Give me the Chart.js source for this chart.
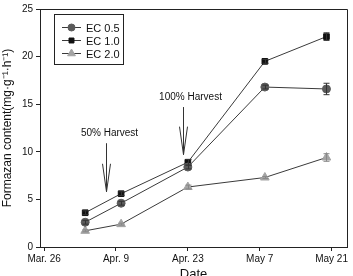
<!DOCTYPE html>
<html>
<head>
<meta charset="utf-8">
<script src="https://cdn.jsdelivr.net/npm/chart.js@4/dist/chart.umd.min.js"></script>
<style>
  html, body { margin: 0; padding: 0; background: #fff; overflow: hidden; }
  #wrap { width: 353px; height: 276px; }
</style>
</head>
<body>
<div id="wrap"><canvas id="formazan"></canvas></div>
<script>
// days counted from Mar. 26
const tickDays = [0, 14, 28, 42, 56];
const tickLabels = ['Mar. 26', 'Apr. 9', 'Apr. 23', 'May 7', 'May 21'];
const sampleDays = [8, 15, 28, 43, 55];

const ec05 = [2.6, 4.6, 8.4, 16.8, 16.6];
const ec10 = [3.6, 5.6, 8.9, 19.5, 22.1];
const ec20 = [1.7, 2.4, 6.3, 7.3, 9.4];
const ec05Err = [0.2, 0.2, 0.2, 0.2, 0.6];
const ec10Err = [0.2, 0.2, 0.3, 0.2, 0.4];
const ec20Err = [0.1, 0.1, 0.2, 0.1, 0.4];

// harvest arrows: x position (day), arrow top and tip (y value)
const harvestDays = [12.1, 27.0];
const harvestLabels = ['50% Harvest', '100% Harvest'];
const harvestTop = [10.9, 14.7];
const harvestTip = [5.8, 9.7];

const FONT = '"Liberation Sans", Arial, sans-serif';
const lineColor = '#3a3a3a';

function toPoints(ys) {
    return ys.map((y, i) => ({ x: sampleDays[i], y }));
}

const series = [
    { label: 'EC 0.5', data: ec05, err: ec05Err, style: 'circle', color: '#5a5a5a', radius: 4 },
    { label: 'EC 1.0', data: ec10, err: ec10Err, style: 'rect', color: '#111111', radius: 4 },
    { label: 'EC 2.0', data: ec20, err: ec20Err, style: 'triangle', color: '#a4a4a4', radius: 5 }
];

const extras = {
    id: 'extras',
    afterDatasetsDraw(chart) {
        const { ctx, chartArea: a, scales: { x, y } } = chart;
        ctx.save();

        // error bars
        ctx.lineWidth = 1;
        series.forEach(s => {
            ctx.strokeStyle = s.color === '#a4a4a4' ? '#888' : '#333';
            s.data.forEach((v, i) => {
                const px = Math.round(x.getPixelForValue(sampleDays[i])) + 0.5;
                const hi = y.getPixelForValue(v + s.err[i]);
                const lo = y.getPixelForValue(v - s.err[i]);
                ctx.beginPath();
                ctx.moveTo(px, hi); ctx.lineTo(px, lo);
                ctx.moveTo(px - 3, hi); ctx.lineTo(px + 3, hi);
                ctx.moveTo(px - 3, lo); ctx.lineTo(px + 3, lo);
                ctx.stroke();
            });
        });

        // frame top/right
        ctx.strokeStyle = '#222';
        ctx.beginPath();
        ctx.moveTo(a.left, a.top + 0.5);
        ctx.lineTo(a.right + 0.5, a.top + 0.5);
        ctx.lineTo(a.right + 0.5, a.bottom);
        ctx.stroke();

        // harvest arrows
        ctx.font = '10px ' + FONT;
        ctx.textAlign = 'center';
        ctx.textBaseline = 'bottom';
        harvestDays.forEach((d, i) => {
            const px = Math.round(x.getPixelForValue(d)) + 0.5;
            const top = y.getPixelForValue(harvestTop[i]);
            const tip = y.getPixelForValue(harvestTip[i]);
            ctx.fillStyle = '#111';
            ctx.fillText(harvestLabels[i], px + (i === 0 ? 3 : 7), top - 5);
            ctx.strokeStyle = '#333';
            ctx.beginPath();
            ctx.moveTo(px, top); ctx.lineTo(px, tip);
            ctx.moveTo(px - 4, tip - 28); ctx.lineTo(px, tip);
            ctx.lineTo(px + 4, tip - 28);
            ctx.stroke();
        });

        // legend box
        const bx = 54, by = 14, bw = 69, bh = 50;
        ctx.strokeStyle = '#222';
        ctx.strokeRect(bx + 0.5, by + 0.5, bw, bh);
        ctx.font = '11px ' + FONT;
        ctx.textAlign = 'left';
        ctx.textBaseline = 'middle';
        series.forEach((s, i) => {
            const ly = by + 13.5 + i * 13;
            ctx.strokeStyle = lineColor;
            ctx.beginPath();
            ctx.moveTo(bx + 8, ly); ctx.lineTo(bx + 27, ly);
            ctx.stroke();
            ctx.fillStyle = s.color;
            ctx.strokeStyle = s.color;
            Chart.helpers.drawPoint(ctx, {
                pointStyle: s.style, radius: s.radius - 0.5, rotation: 0, borderWidth: 1
            }, bx + 17.5, ly);
            ctx.fillStyle = '#111';
            ctx.fillText(s.label, bx + 32, ly + 1);
        });
        ctx.restore();
    }
};

new Chart(document.getElementById('formazan'), {
    type: 'line',
    data: {
        datasets: series.map(s => ({
            label: s.label,
            data: toPoints(s.data),
            borderColor: lineColor,
            borderWidth: 1,
            pointStyle: s.style,
            pointRadius: s.radius,
            pointBackgroundColor: s.color,
            pointBorderColor: s.color,
            pointBorderWidth: 1,
            tension: 0
        }))
    },
    options: {
        responsive: true,
        maintainAspectRatio: false,
        animation: false,
        layout: { padding: { top: 9, right: 6, left: 0, bottom: 0 } },
        plugins: {
            legend: { display: false },
            tooltip: { enabled: false }
        },
        scales: {
            x: {
                type: 'linear',
                min: -0.8,
                max: 59,
                afterBuildTicks(scale) {
                    scale.ticks = tickDays.map(v => ({ value: v }));
                },
                afterFit(scale) { scale.height = 29; },
                ticks: {
                    color: '#111',
                    font: { size: 10, family: FONT },
                    padding: 2,
                    autoSkip: false,
                    maxRotation: 0,
                    callback: v => tickLabels[tickDays.indexOf(v)]
                },
                grid: { drawOnChartArea: false, drawTicks: true, tickLength: 4, color: '#222' },
                border: { display: true, color: '#222', width: 1 },
                title: {
                    display: true,
                    text: 'Date',
                    color: '#111',
                    font: { size: 13, family: FONT },
                    padding: { top: 0, bottom: -6 }
                }
            },
            y: {
                min: 0,
                max: 25,
                afterFit(scale) { scale.width = 40; },
                ticks: {
                    stepSize: 5,
                    color: '#111',
                    font: { size: 10, family: FONT },
                    padding: 3
                },
                grid: { drawOnChartArea: false, drawTicks: true, tickLength: 4, color: '#222' },
                border: { display: true, color: '#222', width: 1 },
                title: {
                    display: true,
                    text: 'Formazan content(mg·g⁻¹·h⁻¹)',
                    color: '#111',
                    font: { size: 12, family: FONT },
                    padding: { top: 0, bottom: 1 }
                }
            }
        }
    },
    plugins: [extras]
});
</script>
</body>
</html>
